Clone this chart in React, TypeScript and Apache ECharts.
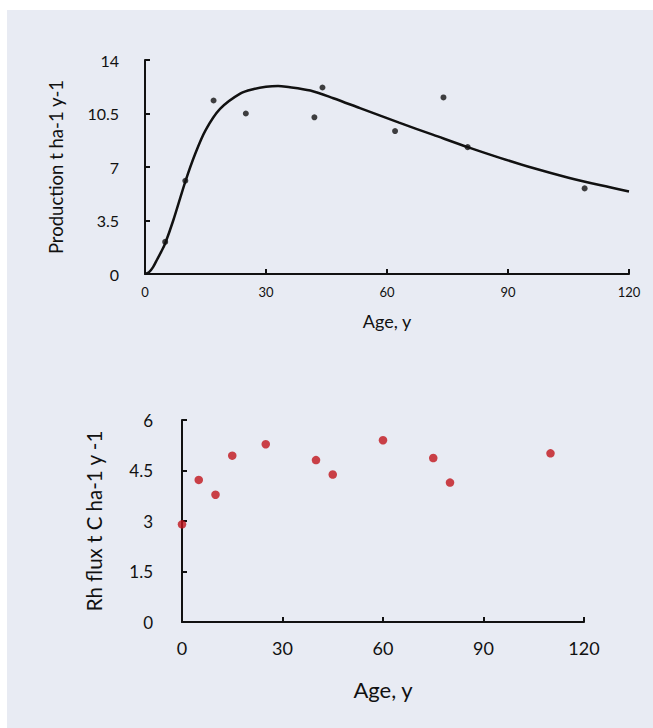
import React, { useEffect, useRef } from "react";
import * as echarts from "echarts";

// Top panel: production vs age
const prodAge = [5, 10, 17, 25, 42, 44, 62, 74, 80, 109];
const prodValue = [2.1, 6.1, 11.35, 10.5, 10.25, 12.2, 9.35, 11.55, 8.3, 5.6];
const curveAge = [0, 1, 2, 3, 4, 5, 7, 10, 12.5, 15, 18.6, 23.6, 27, 30, 33, 35, 41, 46.7, 53.3, 63, 71.5, 80, 88, 96, 105, 113, 120];
const curveValue = [0, 0.12, 0.45, 0.95, 1.45, 2.0, 3.5, 6.05, 7.9, 9.4, 10.8, 11.8, 12.1, 12.25, 12.3, 12.25, 12.0, 11.5, 10.85, 9.9, 9.1, 8.3, 7.6, 6.95, 6.3, 5.8, 5.4];
const topXTicks = [0, 30, 60, 90, 120];
const topYTicks = [0, 3.5, 7, 10.5, 14];

// Bottom panel: Rh flux vs age
const rhAge = [0, 5, 10, 15, 25, 40, 45, 60, 75, 80, 110];
const rhValue = [2.9, 4.22, 3.78, 4.94, 5.28, 4.81, 4.38, 5.4, 4.87, 4.14, 5.01];
const botXTicks = [0, 30, 60, 90, 120];
const botYTicks = [0, 1.5, 3, 4.5, 6];

const FONT = "Lato, 'Open Sans', sans-serif";
const TXT = "#111111";

export default function App() {
  const ref = useRef<HTMLDivElement>(null);
  useEffect(() => {
    const chart = echarts.init(ref.current!, null, { renderer: "svg" });
    const axisLine = { show: true, lineStyle: { color: "#111", width: 2 } };
    const axisTick = { show: true, inside: true, length: 5, lineStyle: { color: "#111", width: 2 } };
    const lastOf = (a: number[]) => a[a.length - 1];
    chart.setOption({
      animation: false,
      backgroundColor: "#ffffff",
      graphic: [
        {
          type: "rect",
          z: -10,
          silent: true,
          shape: { x: 7, y: 10, width: 653, height: 728 },
          style: { fill: "#e8ebf3" },
        },
      ],
      grid: [
        { left: 145, top: 60, width: 484, height: 214 },
        { left: 182, top: 420, width: 402, height: 202 },
      ],
      xAxis: [
        {
          gridIndex: 0,
          type: "value",
          min: topXTicks[0],
          max: lastOf(topXTicks),
          interval: topXTicks[1] - topXTicks[0],
          splitLine: { show: false },
          axisLine,
          axisTick,
          axisLabel: { color: TXT, fontFamily: FONT, fontSize: 13, margin: 11 },
          name: "Age, y",
          nameLocation: "middle",
          nameGap: 38,
          nameTextStyle: { color: TXT, fontFamily: FONT, fontSize: 18 },
        },
        {
          gridIndex: 1,
          type: "value",
          min: botXTicks[0],
          max: lastOf(botXTicks),
          interval: botXTicks[1] - botXTicks[0],
          splitLine: { show: false },
          axisLine,
          axisTick,
          axisLabel: { color: TXT, fontFamily: FONT, fontSize: 18, margin: 17 },
          name: "Age, y",
          nameLocation: "middle",
          nameGap: 56,
          nameTextStyle: { color: TXT, fontFamily: FONT, fontSize: 22 },
        },
      ],
      yAxis: [
        {
          gridIndex: 0,
          type: "value",
          min: topYTicks[0],
          max: lastOf(topYTicks),
          interval: topYTicks[1] - topYTicks[0],
          splitLine: { show: false },
          axisLine,
          axisTick,
          axisLabel: { color: TXT, fontFamily: FONT, fontSize: 16, margin: 26 },
          name: "Production t ha-1 y-1",
          nameLocation: "middle",
          nameGap: 80,
          nameTextStyle: { color: TXT, fontFamily: FONT, fontSize: 18.5 },
        },
        {
          gridIndex: 1,
          type: "value",
          min: botYTicks[0],
          max: lastOf(botYTicks),
          interval: botYTicks[1] - botYTicks[0],
          splitLine: { show: false },
          axisLine,
          axisTick,
          axisLabel: { color: TXT, fontFamily: FONT, fontSize: 17, margin: 29 },
          name: "Rh flux t C ha-1 y -1",
          nameLocation: "middle",
          nameGap: 78,
          nameTextStyle: { color: TXT, fontFamily: FONT, fontSize: 20.5 },
        },
      ],
      series: [
        {
          type: "line",
          xAxisIndex: 0,
          yAxisIndex: 0,
          data: curveAge.map((a, i) => [a, curveValue[i]]),
          smooth: 0.3,
          showSymbol: false,
          lineStyle: { color: "#111", width: 2.5 },
          z: 2,
        },
        {
          type: "scatter",
          xAxisIndex: 0,
          yAxisIndex: 0,
          data: prodAge.map((a, i) => [a, prodValue[i]]),
          symbolSize: 6,
          itemStyle: { color: "#111" },
          z: 3,
        },
        {
          type: "scatter",
          xAxisIndex: 1,
          yAxisIndex: 1,
          data: rhAge.map((a, i) => [a, rhValue[i]]),
          symbolSize: 8.5,
          itemStyle: { color: "#c0141a" },
          z: 3,
        },
      ],
    });
    return () => chart.dispose();
  }, []);
  return (
    <div
      ref={ref}
      style={{ position: "fixed", left: 0, top: 0, width: 653, height: 728 }}
    />
  );
}
